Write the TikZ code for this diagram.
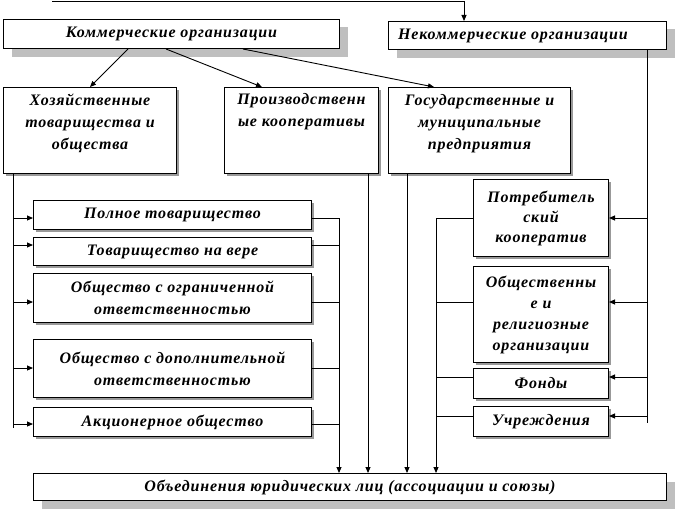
\documentclass[tikz,border=0pt]{standalone}
\usepackage{fontspec}
\setmainfont{Liberation Serif}[LetterSpace=5]
\usetikzlibrary{arrows.meta,shadows}
\begin{document}
\begin{tikzpicture}[x=1pt,y=-1pt,
  every node/.style={font=\fontsize{16}{22}\selectfont\bfseries\itshape},
  bigbox/.style={draw,line width=1pt,fill=white,anchor=north west,inner sep=0pt,
    drop shadow={shadow xshift=8pt,shadow yshift=-8pt,fill=black!25,opacity=1}},
  smallbox/.style={draw,line width=1pt,fill=white,anchor=north west,inner sep=0pt,align=center,
    drop shadow={shadow xshift=2.5pt,shadow yshift=-2.5pt,fill=black!40,opacity=1}},
  txt/.style={anchor=north,align=center,inner sep=0pt},
  ln/.style={line width=0.9pt},
  arr/.style={line width=0.9pt,-{Triangle[length=6pt,width=5pt]}}]
\useasboundingbox (0,0) rectangle (676,511);
% top-level
\node[bigbox,minimum width=336pt,minimum height=29pt] (kom) at (3,19) {Коммерческие организации};
\node[bigbox,minimum width=278pt,minimum height=28pt] (nek) at (388,21) {};
\node[anchor=west,inner sep=0pt] (nekt) at ([xshift=10pt]nek.west) {Некоммерческие организации};
% second level
\node[smallbox,minimum width=173pt,minimum height=86pt] (hoz) at (3,87) {};
\node[txt] (hozt) at ([yshift=-7pt]hoz.north) {Хозяйственные\\товарищества и\\общества};
\node[smallbox,minimum width=154pt,minimum height=86pt] (pro) at (224,87) {};
\node[txt] (prot) at ([yshift=-6pt]pro.north) {Производственн\\ые кооперативы};
\node[smallbox,minimum width=182pt,minimum height=86pt] (gos) at (388,87) {};
\node[txt] (gost) at ([yshift=-7pt]gos.north) {Государственные и\\муниципальные\\предприятия};
% left group
\node[smallbox,minimum width=278pt,minimum height=29pt] (l1) at (33,200) {Полное товарищество};
\node[smallbox,minimum width=278pt,minimum height=28pt] (l2) at (33,237) {Товарищество на вере};
\node[smallbox,minimum width=278pt,minimum height=49pt] (l3) at (33,273) {Общество с ограниченной\\ответственностью};
\node[smallbox,minimum width=278pt,minimum height=58pt] (l4) at (33,339) {Общество с дополнительной\\ответственностью};
\node[smallbox,minimum width=278pt,minimum height=29pt] (l5) at (33,407) {Акционерное общество};
% right group
\node[smallbox,minimum width=135pt,minimum height=77pt,font=\fontsize{16}{20}\selectfont\bfseries\itshape] (r1) at (473,179) {Потребитель\\ский\\кооператив};
\node[smallbox,minimum width=135pt,minimum height=96pt,font=\fontsize{16}{21}\selectfont\bfseries\itshape] (r2) at (473,266) {Общественны\\е и\\религиозные\\организации};
\node[smallbox,minimum width=135pt,minimum height=30pt] (r3) at (473,368) {Фонды};
\node[smallbox,minimum width=135pt,minimum height=30pt] (r4) at (473,406) {Учреждения};
% bottom
\node[bigbox,minimum width=633pt,minimum height=27pt] (bot) at (33,473) {Объединения юридических лиц (ассоциации и союзы)};
% top connector
\coordinate (topstart) at (52,1);
\draw[arr] (topstart) -| (nek.north -| 464,0);
% from Kommercheskie
\draw[arr] ([xshift=125pt]kom.south west) -- ([xshift=87pt]hoz.north west);
\draw[arr] ([xshift=163pt]kom.south west) -- ([xshift=38pt]pro.north west);
\draw[arr] ([xshift=240pt]kom.south west) -- ([xshift=46pt]gos.north west);
% left bus
\coordinate (lbusend) at (13,428);
\draw[ln] (hoz.south -| lbusend) -- (lbusend);
\draw[arr] ([yshift=-18pt]l1.north west -| lbusend) -- ([yshift=-18pt]l1.north west);
\draw[arr] ([yshift=-8pt]l2.north west -| lbusend) -- ([yshift=-8pt]l2.north west);
\draw[arr] ([yshift=-29pt]l3.north west -| lbusend) -- ([yshift=-29pt]l3.north west);
\draw[arr] ([yshift=-29pt]l4.north west -| lbusend) -- ([yshift=-29pt]l4.north west);
\draw[arr] ([yshift=-17pt]l5.north west -| lbusend) -- ([yshift=-17pt]l5.north west);
% left group to bottom
\coordinate (lc) at (339,0);
\draw[ln] ([yshift=-18pt]l1.north east) -- ([yshift=-18pt]l1.north east -| lc);
\draw[ln] ([yshift=-8pt]l2.north east) -- ([yshift=-8pt]l2.north east -| lc);
\draw[ln] ([yshift=-29pt]l3.north east) -- ([yshift=-29pt]l3.north east -| lc);
\draw[ln] ([yshift=-29pt]l4.north east) -- ([yshift=-29pt]l4.north east -| lc);
\draw[ln] ([yshift=-17pt]l5.north east) -- ([yshift=-17pt]l5.north east -| lc);
\draw[arr] ([yshift=-18pt]l1.north east -| lc) -- (bot.north -| lc);
\draw[arr] (pro.south -| 368,0) -- (bot.north -| 368,0);
\draw[arr] (gos.south -| 407,0) -- (bot.north -| 407,0);
% right group to bottom
\coordinate (rc) at (436,0);
\draw[ln] ([yshift=-39pt]r1.north west) -- ([yshift=-39pt]r1.north west -| rc);
\draw[ln] ([yshift=-36pt]r2.north west) -- ([yshift=-36pt]r2.north west -| rc);
\draw[ln] ([yshift=-9pt]r3.north west) -- ([yshift=-9pt]r3.north west -| rc);
\draw[ln] ([yshift=-10pt]r4.north west) -- ([yshift=-10pt]r4.north west -| rc);
\draw[arr] ([yshift=-39pt]r1.north west -| rc) -- (bot.north -| rc);
% right bus
\coordinate (rbusend) at (647,423);
\draw[ln] (nek.south -| rbusend) -- (rbusend);
\draw[arr] ([yshift=-39pt]r1.north east -| rbusend) -- ([yshift=-39pt]r1.north east);
\draw[arr] ([yshift=-36pt]r2.north east -| rbusend) -- ([yshift=-36pt]r2.north east);
\draw[arr] ([yshift=-9pt]r3.north east -| rbusend) -- ([yshift=-9pt]r3.north east);
\draw[arr] ([yshift=-10pt]r4.north east -| rbusend) -- ([yshift=-10pt]r4.north east);
\end{tikzpicture}
\end{document}
